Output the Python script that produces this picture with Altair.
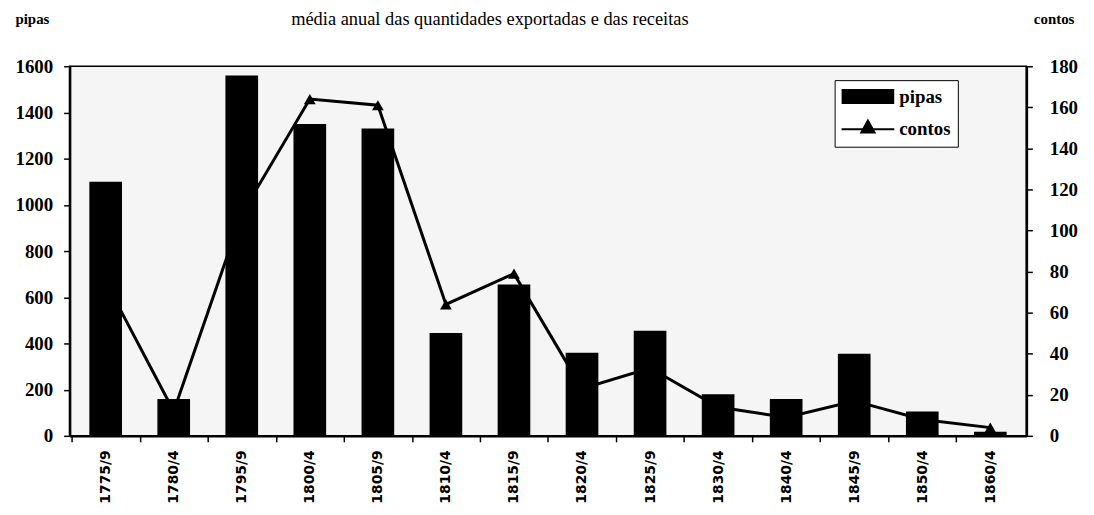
import altair as alt
import pandas as pd

# ---- data ----
periodos = ["1775/9", "1780/4", "1795/9", "1800/4", "1805/9", "1810/4", "1815/9",
            "1820/4", "1825/9", "1830/4", "1840/4", "1845/9", "1850/4", "1860/4"]
pipas = [1100, 160, 1560, 1350, 1330, 445, 655, 360, 455, 180, 160, 355, 105, 18]
contos = [75, 12, 108, 164, 161, 64, 79, 23, 33, 14, 9, 17, 8, 4]
series = ["pipas", "contos"]
titulo = "média anual das quantidades exportadas e das receitas"

df = pd.DataFrame({"periodo": periodos, "pipas": pipas, "contos": contos})

SERIF = "Liberation Serif"
RECT = "M-3.64,-0.93H3.64V0.93H-3.64Z"
LINETRI = "M-3.79,0H3.79M-0.95,0.45L0,-1.25L0.95,0.45Z"

legend = alt.Legend(
    title=None, orient="none", legendX=770, legendY=14,
    symbolSize=196, symbolOffset=17, labelOffset=22, rowPadding=8, padding=7,
    strokeColor="black", fillColor="white",
    labelFont=SERIF, labelFontWeight="bold", labelFontSize=19, labelColor="black",
    symbolType=alt.ExprRef(f"datum.value === 'pipas' ? '{RECT}' : '{LINETRI}'"),
    symbolFillColor="black", symbolStrokeColor="black", symbolStrokeWidth=2,
    symbolOpacity=1,
)
color_scale = alt.Scale(domain=series, range=["black", "black"])

x = alt.X(
    "periodo:N", sort=periodos, title=None,
    scale=alt.Scale(paddingInner=0.52, paddingOuter=0.29),
    axis=alt.Axis(labelAngle=-90, tickOffset=-34.25, labelOffset=34.25,
                  labelFont="DejaVu Sans",
                  labelFontWeight="bold", labelFontSize=14, tickSize=6, labelPadding=8,
                  domainWidth=2.5, tickWidth=1.5),
)

line = alt.Chart(df).transform_calculate(serie="'contos'").mark_line(
    strokeWidth=3,
    point=alt.OverlayMarkDef(shape="triangle-up", size=140, filled=True, color="black"),
).encode(
    x=x,
    y=alt.Y("contos:Q", scale=alt.Scale(domain=[0, 180], nice=False),
            axis=alt.Axis(orient="right", values=list(range(0, 181, 20)), grid=False,
                          format="d",
                          labelFont=SERIF, labelFontWeight="bold", labelFontSize=19,
                          tickSize=6, labelPadding=17, domainWidth=2.5, tickWidth=1.5,
                          title="contos", titleAngle=0, titleAlign="left",
                          titleBaseline="alphabetic", titleX=7, titleY=-43,
                          titleFont=SERIF, titleFontWeight="bold", titleFontSize=15)),
    color=alt.Color("serie:N", scale=color_scale, legend=legend),
)

bars = alt.Chart(df).transform_calculate(serie="'pipas'").mark_bar().encode(
    x=x,
    y=alt.Y("pipas:Q", scale=alt.Scale(domain=[0, 1600], nice=False),
            axis=alt.Axis(orient="left", values=list(range(0, 1601, 200)), grid=False,
                          format="d",
                          labelFont=SERIF, labelFontWeight="bold", labelFontSize=19,
                          tickSize=6, labelPadding=11, domainWidth=2.5, tickWidth=1.5,
                          title="pipas", titleAngle=0, titleAlign="left",
                          titleBaseline="alphabetic", titleX=-55, titleY=-43,
                          titleFont=SERIF, titleFontWeight="bold", titleFontSize=15)),
    color=alt.Color("serie:N", scale=color_scale, legend=legend),
)

chart = alt.layer(line, bars).resolve_scale(y="independent").properties(
    width=963, height=372,
    autosize=alt.AutoSizeParams(type="none"),
    padding={"left": 62, "top": 57, "right": 60, "bottom": 70},
    title=alt.TitleParams(text=titulo, font=SERIF, fontSize=18.5, fontWeight="normal",
                          color="black", anchor="start", dx=278, dy=21),
).configure_view(
    stroke="black", strokeWidth=1.5, fill="#f5f5f5"
).configure_axis(
    labelColor="black", tickColor="black", domainColor="black", titleColor="black"
)

chart.save("out.html", embed_options={"renderer": "svg", "actions": False})
